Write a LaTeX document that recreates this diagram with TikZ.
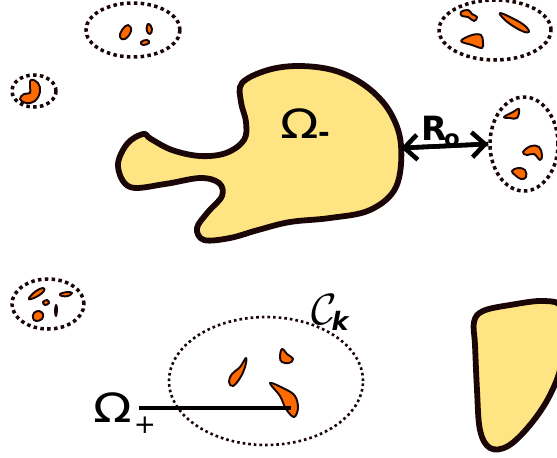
\documentclass[tikz,border=0pt]{standalone}
\usepackage{fontspec}
\setmainfont{DejaVu Sans}
\usetikzlibrary{arrows.meta,shapes.geometric,positioning}
\definecolor{regyellow}{HTML}{FFE483}
\definecolor{incorange}{HTML}{FF6A00}
\definecolor{outline}{HTML}{1A0606}
\tikzset{
region/.style={fill=regyellow, draw=outline, line width=3.3pt, line join=round},
inclusion/.style={fill=incorange, draw=outline, line width=1.1pt, line join=round},
cluster/.style={ellipse, draw=outline, line width=2pt, dash pattern=on 2pt off 1.9pt, inner sep=0pt},
bigcluster/.style={cluster, line width=1.5pt, dash pattern=on 1.5pt off 1.7pt},
bigtext/.style={font=\fontsize{23}{27}\selectfont, inner sep=0pt, xscale=1.25},
>={Straight Barb[length=2.6mm,width=5mm]}
}
\begin{document}
\begin{tikzpicture}[x=0.02cm, y=-0.02cm]
\clip (0,0) rectangle (557,457);

% clusters of inclusions
\node[cluster, minimum width=1.88cm, minimum height=1.08cm] (cA) at (133,30) {};
\node[cluster, minimum width=2.24cm, minimum height=1.2cm] (cB) at (495,30) {};
\node[cluster, minimum width=0.88cm, minimum height=0.64cm] (cC) at (34,91) {};
\node[cluster, minimum width=1.36cm, minimum height=1.88cm] (cD) at (524,144) {};
\node[cluster, minimum width=1.44cm, minimum height=1.0cm] (cE) at (48,304) {};
\node[bigcluster, minimum width=3.88cm, minimum height=2.56cm] (cK) at (266,381) {};

% inclusions
\draw[inclusion] plot[smooth cycle, tension=0.8] coordinates {(128,25) (131,31) (125,39) (120,37) (122,30)};
\draw[inclusion] plot[smooth cycle, tension=0.8] coordinates {(149,24) (152,29) (150,34) (147,31) (147,26)};
\draw[inclusion] plot[smooth cycle, tension=0.8] coordinates {(141,42) (147,40) (149,43) (143,45)};
\draw[inclusion] plot[smooth cycle, tension=0.7] coordinates {(461,12) (468,10) (472,14) (477,17) (474,21) (468,17) (462,16)};
\draw[inclusion] plot[smooth cycle, tension=0.7] coordinates {(500,13) (510,17) (524,25) (529,32) (522,31) (510,24) (502,17)};
\draw[inclusion] plot[smooth cycle, tension=0.6] coordinates {(461,41) (472,35) (481,35) (483,42) (482,48) (472,45)};
\draw[inclusion] plot[smooth cycle, tension=0.7] coordinates {(31,80) (38,83) (40,92) (35,101) (26,103) (20,99) (24,94) (30,93) (30,87)};
\draw[inclusion] plot[smooth cycle, tension=0.7] coordinates {(504,117) (513,112) (519,109) (517,118) (510,118)};
\draw[inclusion] plot[smooth cycle, tension=0.7] coordinates {(523,152) (531,146) (539,147) (542,155) (540,160) (534,154) (527,155)};
\draw[inclusion] plot[smooth cycle, tension=0.7] coordinates {(512,171) (518,168) (525,170) (526,177) (521,179) (515,175)};
\draw[inclusion] plot[smooth cycle, tension=0.7] coordinates {(29,298) (36,291) (43,288) (44,291) (38,296) (31,299)};
\draw[inclusion] plot[smooth cycle, tension=0.7] coordinates {(60,294) (67,292) (72,293) (68,296) (62,296)};
\draw[inclusion] plot[smooth cycle, tension=0.7] coordinates {(43,302) (47,300) (49,303) (45,305)};
\draw[inclusion] plot[smooth cycle, tension=0.7] coordinates {(56,305) (57,309) (56,316) (55,311)};
\draw[inclusion] plot[smooth cycle, tension=0.7] coordinates {(34,313) (39,311) (43,314) (42,319) (36,321) (33,318)};
\draw[inclusion] plot[smooth cycle, tension=0.7] coordinates {(246,358) (245,367) (240,378) (233,386) (229,382) (232,374) (240,367)};
\draw[inclusion] plot[smooth cycle, tension=0.7] coordinates {(282,349) (287,354) (293,359) (289,363) (282,362) (280,357)};
\draw[inclusion] plot[smooth cycle, tension=0.6] coordinates {(270,383) (285,389) (295,396) (298,408) (294,417) (286,409) (280,396)};

% large regions
\draw[region] plot[smooth cycle, tension=0.6] coordinates {
  (242,83) (268,70) (300,66) (336,71) (367,87) (390,112) (401,145)
  (396,187) (370,210) (330,218) (290,222) (258,230) (230,238) (204,240) (197,228)
  (208,212) (222,196) (219,183) (200,178) (165,184) (130,187) (118,166)
  (127,144) (143,134) (151,139) (172,150) (200,156) (226,153) (244,140)
  (246,122) (241,102)};
\draw[region] plot[smooth cycle, tension=0.6] coordinates {
  (483,311) (510,305) (545,301) (562,310) (562,360) (550,395) (530,425)
  (508,446) (490,448) (480,430) (477,390) (475,345) (474,322)};

% labels
\node[bigtext] (om) at (300,124) {Ω};
\node[font=\fontsize{16}{18}\bfseries\selectfont, inner sep=0pt] (omsub) at (324,137) {-};
\coordinate (omr) at (401,148);
\draw[->, line width=2.6pt, black] (cD.west) -- (omr);
\draw[->, line width=2.6pt, black] (omr) -- (cD.west);
\node[font=\fontsize{19}{22}\bfseries\selectfont, inner sep=0pt] (ro) at (434,128) {R};
\node[font=\fontsize{13}{15}\bfseries\selectfont, inner sep=0pt] (rosub) at (452,140) {o};
\node[font=\fontsize{25}{28}\selectfont, inner sep=0pt] (ck) at (324,310) {$\mathcal{C}$};
\node[font=\Large\itshape\bfseries, inner sep=0pt] (cksub) at (340,321) {k};
\node[bigtext] (op) at (113,408) {Ω};
\node[font=\fontsize{15}{17}\selectfont, inner sep=0pt] (opsub) at (145,425) {+};
\coordinate (inner) at (291,408);
\draw[line width=1.9pt] (op.east) ++(6,0) coordinate (opl) (opl) -- (inner);
\end{tikzpicture}
\end{document}
